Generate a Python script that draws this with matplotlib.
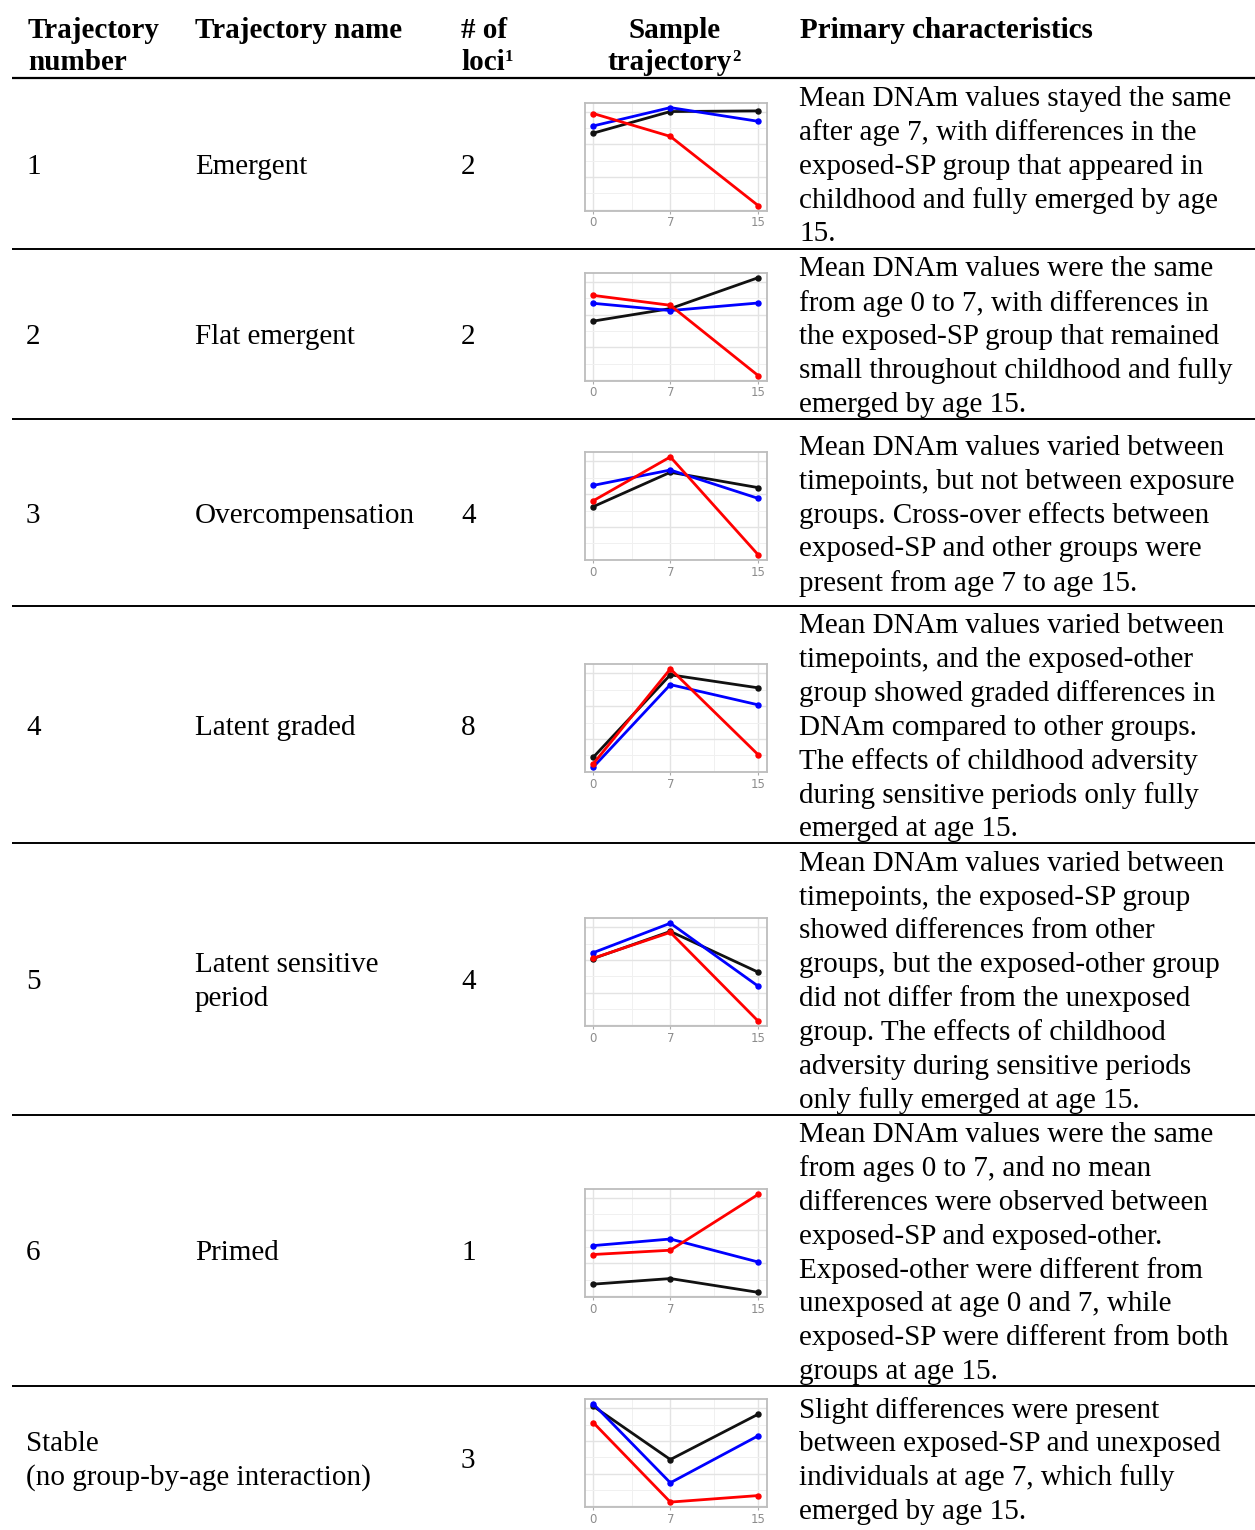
import matplotlib
matplotlib.use("Agg")
import matplotlib.pyplot as plt
from matplotlib.ticker import MaxNLocator, AutoMinorLocator
import numpy as np

W, H = 1255, 1530
plt.rcParams['font.family'] = ['Liberation Serif', 'DejaVu Serif']

# table content
traj_number = ["1", "2", "3", "4", "5", "6", "Stable\n(no group-by-age interaction)"]
traj_name = ["Emergent", "Flat emergent", "Overcompensation", "Latent graded",
             "Latent sensitive\nperiod", "Primed", ""]
n_loci = ["2", "2", "4", "8", "4", "1", "3"]
descriptions = [
    ["Mean DNAm values stayed the same", "after age 7, with differences in the",
     "exposed-SP group that appeared in", "childhood and fully emerged by age", "15."],
    ["Mean DNAm values were the same", "from age 0 to 7, with differences in",
     "the exposed-SP group that remained", "small throughout childhood and fully",
     "emerged by age 15."],
    ["Mean DNAm values varied between", "timepoints, but not between exposure",
     "groups. Cross-over effects between", "exposed-SP and other groups were",
     "present from age 7 to age 15."],
    ["Mean DNAm values varied between", "timepoints, and the exposed-other",
     "group showed graded differences in", "DNAm compared to other groups.",
     "The effects of childhood adversity", "during sensitive periods only fully",
     "emerged at age 15."],
    ["Mean DNAm values varied between", "timepoints, the exposed-SP group",
     "showed differences from other", "groups, but the exposed-other group",
     "did not differ from the unexposed", "group. The effects of childhood",
     "adversity during sensitive periods", "only fully emerged at age 15."],
    ["Mean DNAm values were the same", "from ages 0 to 7, and no mean",
     "differences were observed between", "exposed-SP and exposed-other.",
     "Exposed-other were different from", "unexposed at age 0 and 7, while",
     "exposed-SP were different from both", "groups at age 15."],
    ["Slight differences were present", "between exposed-SP and unexposed",
     "individuals at age 7, which fully", "emerged by age 15."],
]

# sample trajectories (ages 0, 7, 15), arbitrary DNAm units
ages = [0, 7, 15]
unexposed = [[234, 300, 302], [180, 218, 312], [162, 267, 220], [44, 296, 256],
             [204, 287, 162], [37, 54, 12], [306, 143, 282]]
exposed_other = [[256, 312, 270], [234, 212, 235], [227, 274, 187], [14, 266, 204],
                 [222, 312, 119], [154, 174, 104], [313, 72, 216]]
exposed_sp = [[294, 224, 12], [258, 228, 14], [180, 314, 14], [24, 314, 51],
              [205, 284, 12], [127, 140, 310], [256, 13, 33]]

# layout in pixels
row_lines = [249, 419, 606, 843, 1115, 1386]
row_bounds = [78] + row_lines + [1530]
panel_tops = [102.7, 272.7, 452, 664, 918.3, 1189.3, 1399]
panel_h = 108
panel_l, panel_r = 585, 766.7
line_gap = 33.8
fs = 21

fig = plt.figure(figsize=(W / 100, H / 100), dpi=100)
ax = fig.add_axes([0, 0, 1, 1])
ax.set_xlim(0, W)
ax.set_ylim(H, 0)
ax.axis('off')

# header
hdr = dict(fontsize=fs, fontweight='bold', va='center')
ax.text(28, 30, "Trajectory", **hdr)
ax.text(28, 62, "number", **hdr)
ax.text(195, 30, "Trajectory name", **hdr)
ax.text(461, 30, "# of", **hdr)
t1 = ax.text(461, 62, "loci", **hdr)
ax.annotate("1", xy=(1, 0.97), xycoords=t1, fontsize=12, fontweight='bold', va='top')
ax.text(675, 30, "Sample", ha='center', **hdr)
t2 = ax.text(608, 62, "trajectory", **hdr)
ax.annotate("2", xy=(1, 0.97), xycoords=t2, fontsize=12, fontweight='bold', va='top')
ax.text(800, 30, "Primary characteristics", **hdr)

# rules
ax.plot([12, W], [78, 78], color='black', lw=1.6, solid_capstyle='butt')
for y in row_lines:
    ax.plot([12, W], [y, y], color='black', lw=1.4, solid_capstyle='butt')


def put_lines(x, yc, lines):
    n = len(lines)
    for i, s in enumerate(lines):
        ax.text(x, yc + (i - (n - 1) / 2) * line_gap, s, fontsize=fs, va='center')


for i in range(7):
    yc = (row_bounds[i] + row_bounds[i + 1]) / 2 + 3
    put_lines(26, yc, traj_number[i].split("\n"))
    if traj_name[i]:
        put_lines(195, yc, traj_name[i].split("\n"))
    put_lines(461, yc, [n_loci[i]])
    put_lines(799, yc, descriptions[i])

    # mini chart
    top = panel_tops[i]
    m = fig.add_axes([panel_l / W, 1 - (top + panel_h) / H,
                      (panel_r - panel_l) / W, panel_h / H])
    m.set_facecolor('white')
    for series, col in [(unexposed[i], '#111111'), (exposed_other[i], '#0000FF'),
                        (exposed_sp[i], '#FF0000')]:
        m.plot(ages, series, color=col, lw=2.0, marker='o', markersize=3.6)
    allv = np.concatenate([unexposed[i], exposed_other[i], exposed_sp[i]])
    lo, hi = allv.min(), allv.max()
    pad = 0.05 * (hi - lo)
    m.set_ylim(lo - pad, hi + pad)
    m.set_xlim(-0.75, 15.75)
    m.set_xticks(ages)
    m.set_xticks([3.5, 11], minor=True)
    m.yaxis.set_major_locator(MaxNLocator(4))
    m.yaxis.set_minor_locator(AutoMinorLocator(2))
    m.grid(which='major', color='#e3e3e3', lw=1.0)
    m.grid(which='minor', color='#f0f0f0', lw=0.7)
    m.set_axisbelow(True)
    m.tick_params(axis='y', which='both', length=0, labelleft=False)
    m.tick_params(axis='x', which='major', length=2.5, color='#aaaaaa',
                  labelsize=8.5, labelcolor='#8c8c8c', pad=1.5)
    m.tick_params(axis='x', which='minor', length=0)
    for sp in m.spines.values():
        sp.set_color('#bdbdbd')
        sp.set_linewidth(1.3)
    for lab in m.get_xticklabels():
        lab.set_family('DejaVu Sans')

fig.savefig("out.png", dpi=100)
